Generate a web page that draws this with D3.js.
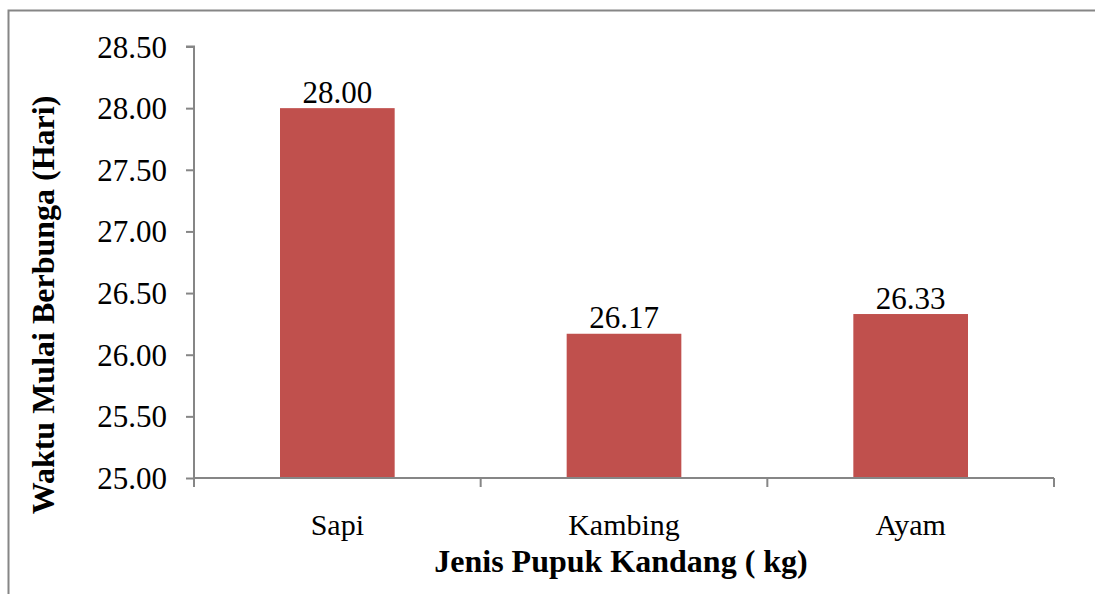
<!DOCTYPE html>
<html>
<head>
<meta charset="utf-8">
<script src="https://cdn.jsdelivr.net/npm/d3@7"></script>
<style>
  html, body { margin: 0; padding: 0; background: #fff; }
  svg { display: block; }
</style>
</head>
<body>
<svg id="chart" width="1095" height="594"></svg>
<script>
// Flowering start time by manure type
const categories = ["Sapi", "Kambing", "Ayam"];
const values = [28.00, 26.17, 26.33];
const yTicks = [25.0, 25.5, 26.0, 26.5, 27.0, 27.5, 28.0, 28.5];

const FONT = "Liberation Serif";
const W = 1095, H = 594;
const margin = { left: 194, right: 41, top: 46.5, bottom: 116 };
const svg = d3.select("#chart");

// outer chart frame
svg.append("path")
  .attr("d", `M8.5,${H} V10.5 H${W}`)
  .attr("fill", "none")
  .attr("stroke", "#868686")
  .attr("stroke-width", 2);

const x = d3.scaleBand()
  .domain(categories)
  .range([margin.left, W - margin.right])
  .paddingInner(0.6)
  .paddingOuter(0.3);

const y = d3.scaleLinear()
  .domain([25, 28.5])
  .range([H - margin.bottom, margin.top]);

// bars
svg.append("g").selectAll("rect")
  .data(values)
  .join("rect")
  .attr("x", (d, i) => x(categories[i]))
  .attr("width", x.bandwidth())
  .attr("y", d => y(d))
  .attr("height", d => y(25) - y(d))
  .attr("fill", "#C0504D");

// value labels
svg.append("g").selectAll("text")
  .data(values)
  .join("text")
  .attr("x", (d, i) => x(categories[i]) + x.bandwidth() / 2)
  .attr("y", d => y(d) - 5.5)
  .attr("text-anchor", "middle")
  .attr("font-family", FONT)
  .attr("font-size", 31)
  .text(d => d.toFixed(2));

// y axis
const yAxis = svg.append("g")
  .attr("transform", `translate(${margin.left},0)`)
  .call(d3.axisLeft(y).tickValues(yTicks).tickSize(8).tickPadding(19)
    .tickFormat(d3.format(".2f")));
yAxis.attr("font-family", null).attr("font-size", null);
yAxis.select(".domain").attr("stroke", "#868686").attr("stroke-width", 2)
  .attr("d", `M-8,${y(28.5)}H0V${y(25)}`);
yAxis.selectAll(".tick line").attr("stroke", "#868686").attr("stroke-width", 2);
yAxis.selectAll(".tick text")
  .attr("font-family", FONT)
  .attr("font-size", 31)
  .attr("fill", "#000")
  .attr("dy", "0.34em");

// x axis with boundary ticks between categories
const xg = svg.append("g").attr("transform", `translate(0,${y(25)})`);
const x0 = margin.left, x1 = W - margin.right;
xg.append("line")
  .attr("x1", x0).attr("x2", x1)
  .attr("stroke", "#868686").attr("stroke-width", 2);
const step = (x1 - x0) / categories.length;
xg.selectAll("line.b")
  .data(d3.range(categories.length + 1))
  .join("line")
  .attr("class", "b")
  .attr("x1", i => x0 + i * step).attr("x2", i => x0 + i * step)
  .attr("y1", 0).attr("y2", 9)
  .attr("stroke", "#868686").attr("stroke-width", 2);
xg.selectAll("text")
  .data(categories)
  .join("text")
  .attr("x", d => x(d) + x.bandwidth() / 2)
  .attr("y", 57)
  .attr("text-anchor", "middle")
  .attr("font-family", FONT)
  .attr("font-size", 30)
  .text(d => d);

// axis titles
svg.append("text")
  .attr("x", 621)
  .attr("y", 572)
  .attr("text-anchor", "middle")
  .attr("font-family", FONT)
  .attr("font-weight", "bold")
  .attr("font-size", 32)
  .text("Jenis Pupuk Kandang ( kg)");

svg.append("text")
  .attr("transform", "translate(54,305) rotate(-90)")
  .attr("text-anchor", "middle")
  .attr("font-family", FONT)
  .attr("font-weight", "bold")
  .attr("font-size", 32)
  .text("Waktu Mulai Berbunga (Hari)");
</script>
</body>
</html>
